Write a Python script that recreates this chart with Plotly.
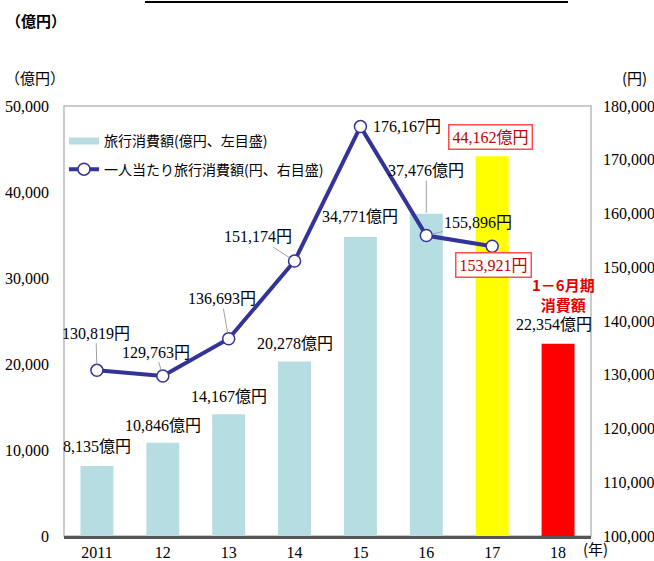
import plotly.graph_objects as go

years = ["2011", "12", "13", "14", "15", "16", "17", "18"]
spend = [8135, 10846, 14167, 20278, 34771, 37476, 44162, 22354]
per_person_years = ["2011", "12", "13", "14", "15", "16", "17"]
per_person = [130819, 129763, 136693, 151174, 176167, 155896, 153921]
bar_colors = ["#B6DDE2"] * 6 + ["#FFFF00", "#FF0000"]

SERIF = "Liberation Serif, Noto Sans CJK JP"
CJK = "Noto Sans CJK JP"
LINE = "#333399"

fig = go.Figure()
fig.add_trace(go.Bar(
    x=years, y=spend, marker=dict(color=bar_colors, line=dict(width=0)),
    name="旅行消費額(億円、左目盛)", yaxis="y", showlegend=False,
))
# legend-only entry giving the bar series a wide swatch like the original
fig.add_trace(go.Scatter(
    x=[None], y=[None], mode="lines", line=dict(color="#B6DDE2", width=7),
    name="旅行消費額(億円、左目盛)", legendgroup="a",
))
fig.add_trace(go.Scatter(
    x=per_person_years, y=per_person, mode="lines+markers",
    line=dict(color=LINE, width=4),
    marker=dict(size=12, color="white", line=dict(color=LINE, width=1.5)),
    name="一人当たり旅行消費額(円、右目盛)", yaxis="y2", legendgroup="b",
))

ann = []
# bar labels (x given as category index)
bar_label_cfg = {
    "2011": dict(yshift=20), "12": dict(yshift=17), "13": dict(yshift=18),
    "14": dict(yshift=18), "15": dict(yshift=20), "18": dict(yshift=19, xshift=-4),
}
for i, (yr, v) in enumerate(zip(years, spend)):
    label = f"{v:,}億円"
    if yr in bar_label_cfg:
        ann.append(dict(x=i, y=v, xref="x", yref="y", text=label, showarrow=False,
                        font=dict(family=SERIF, size=16, color="black"),
                        **bar_label_cfg[yr]))
    elif yr == "16":
        ann.append(dict(x=i, y=v, xref="x", yref="y", text=label, showarrow=True,
                        ax=0, ay=-43, arrowhead=0, arrowwidth=1, arrowcolor="#A0A0A0",
                        standoff=1, font=dict(family=SERIF, size=16, color="black")))
    elif yr == "17":
        ann.append(dict(x=i, y=v, xref="x", yref="y", text=label, showarrow=False,
                        yshift=19, xshift=-2, bordercolor="#FF4D4D", borderwidth=1.5,
                        borderpad=3, bgcolor="white",
                        font=dict(family=SERIF, size=16, color="#C00000")))

# line labels
line_cfg = {
    "2011": (-1, -37), "12": (-7, -24), "13": (-7, -40),
    "14": (-37, -24), "16": (52, -13),
}
for i, (yr, v) in enumerate(zip(per_person_years, per_person)):
    label = f"{v:,}円"
    if yr in line_cfg:
        ax, ay = line_cfg[yr]
        ann.append(dict(x=i, y=v, xref="x", yref="y2", text=label, showarrow=True,
                        ax=ax, ay=ay, arrowhead=0, arrowwidth=1, arrowcolor="#A0A0A0",
                        standoff=6, font=dict(family=SERIF, size=16, color="black")))
    elif yr == "15":
        ann.append(dict(x=i, y=v, xref="x", yref="y2", text=label, showarrow=False,
                        xshift=47, font=dict(family=SERIF, size=16, color="black")))
    elif yr == "17":
        ann.append(dict(x=i, y=v, xref="x", yref="y2", text=label, showarrow=False,
                        yshift=-19, xshift=1, bordercolor="#FF4D4D", borderwidth=1.5,
                        borderpad=3, bgcolor="white",
                        font=dict(family=SERIF, size=16, color="#C00000")))

# note for 2018
ann.append(dict(x=7, y=spend[7], xref="x", yref="y", text="1－6月期<br>消費額",
                showarrow=False, yshift=49, xshift=5,
                font=dict(family=CJK, size=15, color="#E60000", weight="bold")))

# unit labels
W, L, R, T, B = 654, 64, 63, 106, 25
pw = W - L - R
ph = 561 - T - B
def px(xp):
    return (xp - L) / pw
def py(yp):
    return (561 - B - yp) / ph

def unit(text, x, y, bold=False):
    f = dict(family=CJK, size=15, color="black")
    if bold:
        f["weight"] = "bold"
    ann.append(dict(x=px(x), y=py(y), xref="paper", yref="paper", text=text,
                    xanchor="center", yanchor="middle", showarrow=False, font=f))

unit("（億円）", 36, 20, bold=True)
unit("（億円）", 35, 78)
unit("(円)", 634, 78)
unit("(年)", 595, 548)

shapes = [
    dict(type="rect", xref="paper", yref="paper", x0=0, x1=1, y0=0, y1=1,
         line=dict(color="#BBBBBB", width=1.5), layer="below"),
    dict(type="line", xref="paper", yref="paper", x0=px(145), x1=px(568),
         y0=py(2), y1=py(2), line=dict(color="black", width=2)),
]

fig.update_layout(
    width=W, height=561, margin=dict(l=L, r=R, t=T, b=B, autoexpand=False),
    paper_bgcolor="white", plot_bgcolor="white",
    bargap=0.5, showlegend=True,
    legend=dict(x=0.0, y=0.955, xanchor="left", yanchor="top", bgcolor="rgba(0,0,0,0)",
                font=dict(family=CJK, size=14, color="black"), itemwidth=30,
                tracegroupgap=7),
    xaxis=dict(type="category", range=[-0.5, 7.5], autorange=False, showgrid=False,
               showline=True, linecolor="#555555", automargin=False,
               linewidth=2.5, ticks="", tickfont=dict(family=SERIF, size=16, color="black"),
               zeroline=False),
    yaxis=dict(range=[0, 50000], dtick=10000, tickformat=",", showgrid=False,
               zeroline=False, showline=False, ticks="", ticklabelstandoff=14,
               automargin=False, tickfont=dict(family=SERIF, size=16, color="black")),
    yaxis2=dict(range=[100000, 180000], dtick=10000, tickformat=",", overlaying="y",
                side="right", showgrid=False, zeroline=False, showline=False, ticks="",
                automargin=False, ticklabelstandoff=11,
                tickfont=dict(family=SERIF, size=16, color="black")),
    annotations=ann, shapes=shapes,
)

fig.write_html("out.html")
